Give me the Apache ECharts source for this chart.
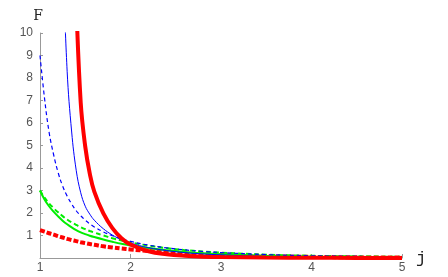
<!DOCTYPE html>
<html>
<head>
<meta charset="utf-8">
<script src="https://cdn.jsdelivr.net/npm/echarts@6/dist/echarts.min.js"></script>
<style>
  html, body { margin: 0; padding: 0; background: #fff; }
  #chart { width: 448px; height: 277px; }
</style>
</head>
<body>
<div id="chart"></div>
<script>
// j values shared by all curves
const jValues = [1, 1.05, 1.1, 1.15, 1.2, 1.25, 1.3, 1.35, 1.4, 1.45, 1.5, 1.55, 1.6, 1.7, 1.8, 1.9, 2, 2.2, 2.4, 2.6, 2.8, 3, 3.5, 4, 4.5, 5]

// F values (null = not drawn)
const blueDashed = [9.0, 7.1, 5.6, 4.6, 3.8, 3.2, 2.75, 2.4, 2.1, 1.88, 1.68, 1.52, 1.38, 1.16, 0.99, 0.85, 0.74, 0.57, 0.45, 0.36, 0.29, 0.24, 0.15, 0.1, 0.07, 0.05]
const blueSolid = [null, null, null, null, null, 13.5, 8.3, 5.6, 3.9, 2.9, 2.3, 1.95, 1.68, 1.3, 1.02, 0.81, 0.66, 0.46, 0.33, 0.24, 0.18, 0.14, 0.07, 0.04, 0.02, 0.01]
const redSolid = [null, null, null, null, null, null, null, null, 11.5, 6.9, 4.95, 3.75, 2.95, 1.98, 1.33, 0.88, 0.6, 0.3, 0.17, 0.1, 0.06, 0.04, 0.02, 0.01, 0.005, 0]
const greenSolid = [3.0, 2.6, 2.3, 2.06, 1.85, 1.66, 1.5, 1.36, 1.24, 1.14, 1.06, 0.99, 0.93, 0.82, 0.72, 0.63, 0.56, 0.44, 0.34, 0.27, 0.21, 0.17, 0.1, 0.06, 0.04, 0.03]
const greenDashed = [3.0, 2.68, 2.43, 2.22, 2.03, 1.86, 1.71, 1.58, 1.47, 1.37, 1.28, 1.2, 1.13, 1.0, 0.88, 0.78, 0.69, 0.55, 0.44, 0.35, 0.29, 0.24, 0.15, 0.1, 0.07, 0.05]
const redDashed = [1.24, 1.17, 1.1, 1.04, 0.97, 0.91, 0.85, 0.8, 0.75, 0.7, 0.66, 0.62, 0.59, 0.52, 0.47, 0.42, 0.38, 0.31, 0.25, 0.2, 0.16, 0.13, 0.08, 0.05, 0.03, 0.02]

function pairs(vals) {
  return jValues.map((j, i) => [j, vals[i]])
}

function curve(vals, color, width, dash) {
  return {
    type: 'line',
    data: pairs(vals),
    smooth: 0.4,
    showSymbol: false,
    clip: true,
    connectNulls: false,
    lineStyle: {
      color: color,
      width: width,
      type: dash || 'solid'
    }
  }
}

const chart = echarts.init(document.getElementById('chart'))
const axisColor = '#999'
const labelColor = '#555'

chart.setOption({
  animation: false,
  grid: { left: 40, right: 46, top: 33, bottom: 19 },
  xAxis: {
    type: 'value',
    min: 1,
    max: 5,
    interval: 1,
    name: 'j',
    nameLocation: 'end',
    nameGap: 14,
    nameTextStyle: { fontFamily: 'Liberation Mono', fontSize: 17, color: '#222', padding: [8, 0, 0, 0] },
    axisLine: { lineStyle: { color: axisColor, width: 1 } },
    axisTick: { inside: true, length: 4, lineStyle: { color: axisColor } },
    axisLabel: { color: labelColor, fontSize: 12, fontFamily: 'Liberation Sans', margin: 4 },
    splitLine: { show: false }
  },
  yAxis: {
    type: 'value',
    min: 0,
    max: 10,
    interval: 1,
    name: 'F',
    nameLocation: 'end',
    nameGap: 10,
    nameTextStyle: { fontFamily: 'DejaVu Serif', fontSize: 14, color: '#222', align: 'center', padding: [0, 4, 0, 0] },
    axisLine: { show: true, lineStyle: { color: axisColor, width: 1 } },
    axisTick: { show: true, inside: true, length: 3, lineStyle: { color: axisColor } },
    axisLabel: {
      color: labelColor,
      fontSize: 12,
      fontFamily: 'Liberation Sans',
      margin: 7,
      formatter: function (v) { return v === 0 ? '' : String(v) }
    },
    splitLine: { show: false }
  },
  series: [
    curve(redDashed, '#ff0000', 4, [5, 2]),
    curve(greenDashed, '#00ee00', 2, [5, 3]),
    curve(greenSolid, '#00ee00', 2),
    curve(blueDashed, '#0000ff', 1.2, [4, 3]),
    curve(blueSolid, '#0000ff', 1),
    curve(redSolid, '#ff0000', 4)
  ]
})
</script>
</body>
</html>
